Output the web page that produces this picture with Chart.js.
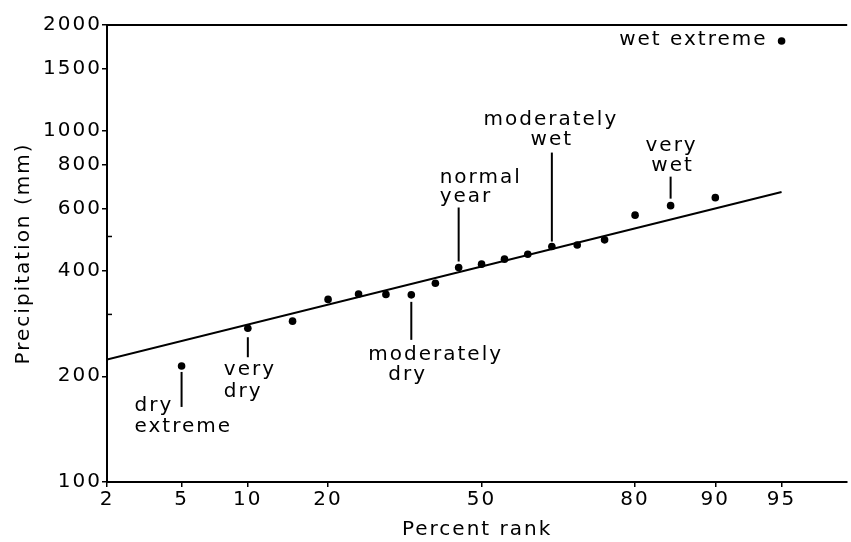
<!DOCTYPE html>
<html><head><meta charset="utf-8">
<script src="https://cdn.jsdelivr.net/npm/chart.js@4/dist/chart.umd.min.js"></script>
<style>html,body{margin:0;padding:0;background:#fff;}canvas{display:block;}</style>
</head><body>
<canvas id="c" width="851" height="542"></canvas>
<script>
// ---- data ----
const percentRank = [5,10,15,20,25,30,35,40,45,50,55,60,65,70,75,80,85,90,95];
const precipitation = [214,274,287,331,343,342,341,368,408,417,431,445,468,473,489,575,612,645,1800];
const fitRank = [2, 95];
const fitPrecip = [223, 669];
const xTickPercents = [2,5,10,20,50,80,90,95];
const xTickLabels = ['2','5','10','20','50','80','90','95'];
const yTickValues = [100,200,300,400,500,600,800,1000,1500,2000];
const yTickLabels = ['100','200','','400','','600','800','1000','1500','2000'];
const xRangePercent = [2, 97.75];
const yRange = [100, 2000];
const labelRanks = [5,10,35,45,65,85,95];
const labelTexts = [['dry','extreme'],['very','dry'],['moderately','dry'],['normal','year'],['moderately','wet'],['very','wet'],['wet extreme']];

// inverse normal CDF (probability-paper axis)
function probit(p){
  const a=[-3.969683028665376e+01,2.209460984245205e+02,-2.759285104469687e+02,1.383577518672690e+02,-3.066479806614716e+01,2.506628277459239e+00];
  const b=[-5.447609879822406e+01,1.615858368580409e+02,-1.556989798598866e+02,6.680131188771972e+01,-1.328068155288572e+01];
  const c=[-7.784894002430293e-03,-3.223964580411365e-01,-2.400758277161838e+00,-2.549671010615606e+00,4.374664141464968e+00,2.938163982698783e+00];
  const d=[7.784695709041462e-03,3.224671290700398e-01,2.445134137142996e+00,3.754408661907416e+00];
  const pl=0.02425, ph=1-pl; let q,r;
  if(p<pl){q=Math.sqrt(-2*Math.log(p));return (((((c[0]*q+c[1])*q+c[2])*q+c[3])*q+c[4])*q+c[5])/((((d[0]*q+d[1])*q+d[2])*q+d[3])*q+1);}
  if(p>ph){q=Math.sqrt(-2*Math.log(1-p));return -(((((c[0]*q+c[1])*q+c[2])*q+c[3])*q+c[4])*q+c[5])/((((d[0]*q+d[1])*q+d[2])*q+d[3])*q+1);}
  q=p-0.5;r=q*q;return (((((a[0]*r+a[1])*r+a[2])*r+a[3])*r+a[4])*r+a[5])*q/(((((b[0]*r+b[1])*r+b[2])*r+b[3])*r+b[4])*r+1);
}
const z = p => probit(p/100);

// ---- styling / annotation layout (pixel offsets relative to the marked point) ----
const INK = '#000';
const FONT = {family:'"DejaVu Sans", sans-serif', size:20, weight:'normal'};
const SPACING = '2px';
const annoLayout = [
  {line:[6,41],   align:'left',   dx:[-47,-47], dy:[40,61]},
  {line:[9,29],   align:'left',   dx:[-24,-24], dy:[42,64]},
  {line:[7,45],   align:'left',   dx:[-43,-23], dy:[60,80]},
  {line:[-6,-60], align:'left',   dx:[-19,-19], dy:[-90,-71]},
  {line:[-5,-94], align:'center', dx:[-1,0],    dy:[-127,-107]},
  {line:[-7,-29], align:'center', dx:[1,2],     dy:[-60,-40]},
  {line:null,     align:'right',  dx:[-14],     dy:[-1]}
];

const spacingPlugin = {
  id:'spacing',
  beforeUpdate(chart){ chart.ctx.letterSpacing = SPACING; },
  beforeLayout(chart){ chart.ctx.letterSpacing = SPACING; },
  beforeDraw(chart){ chart.ctx.letterSpacing = SPACING; }
};

const framePlugin = {
  id:'frame',
  afterDatasetsDraw(chart){
    const ctx = chart.ctx, a = chart.chartArea;
    const xs = chart.scales.x, ys = chart.scales.y;
    ctx.save();
    ctx.letterSpacing = SPACING;
    ctx.strokeStyle = INK; ctx.lineWidth = 2;
    ctx.beginPath(); ctx.moveTo(a.left-1, a.top); ctx.lineTo(a.right, a.top); ctx.stroke();
    // minor ticks (300, 500) drawn inward like the original
    ctx.lineWidth = 1.5;
    [300,500].forEach(v => { const y = ys.getPixelForValue(v); ctx.beginPath(); ctx.moveTo(a.left, y); ctx.lineTo(a.left+5, y); ctx.stroke(); });
    ctx.fillStyle = INK;
    ctx.font = `${FONT.weight} ${FONT.size}px ${FONT.family}`;
    ctx.textBaseline = 'middle';
    labelRanks.forEach((rank, k) => {
      const idx = percentRank.indexOf(rank);
      const px = xs.getPixelForValue(z(rank));
      const py = ys.getPixelForValue(precipitation[idx]);
      const L = annoLayout[k];
      if (L.line){
        ctx.lineWidth = 2;
        ctx.beginPath(); ctx.moveTo(px, py+L.line[0]); ctx.lineTo(px, py+L.line[1]); ctx.stroke();
      }
      ctx.textAlign = L.align;
      labelTexts[k].forEach((t, j) => {
        ctx.fillText(t, px + L.dx[j], py + L.dy[j]);
      });
    });
    ctx.restore();
  }
};

new Chart(document.getElementById('c'), {
  type:'scatter',
  data:{
    datasets:[
      {
        label:'Annual precipitation',
        data: percentRank.map((p,i)=>({x:z(p), y:precipitation[i]})),
        pointRadius:3.8, pointHoverRadius:3.8,
        backgroundColor:INK, borderWidth:0, showLine:false
      },
      {
        label:'Fit',
        data: fitRank.map((p,i)=>({x:z(p), y:fitPrecip[i]})),
        showLine:true, pointRadius:0, borderColor:INK, borderWidth:2, fill:false
      }
    ]
  },
  options:{
    responsive:false, animation:false, devicePixelRatio:1,
    layout:{padding:{top:25, right:0, bottom:0, left:0}},
    plugins:{legend:{display:false}, tooltip:{enabled:false}},
    scales:{
      x:{
        type:'linear', position:'bottom',
        min:z(xRangePercent[0]), max:z(xRangePercent[1]),
        afterBuildTicks: s => { s.ticks = xTickPercents.map(p => ({value:z(p)})); },
        afterFit: s => { s.height = 60; },
        ticks:{autoSkip:false, maxRotation:0, minRotation:0, padding:1, color:INK, font:FONT,
               callback:(v,i)=>xTickLabels[i]},
        grid:{display:true, drawOnChartArea:false, drawTicks:true, tickLength:5, color:INK, lineWidth:1.5},
        border:{display:true, color:INK, width:2},
        title:{display:true, text:'Percent rank', color:INK, font:FONT, padding:{top:0,bottom:0}}
      },
      y:{
        type:'logarithmic', position:'left',
        min:yRange[0], max:yRange[1],
        afterBuildTicks: s => { s.ticks = yTickValues.map(v => ({value:v})); },
        afterFit: s => { s.width = 107; },
        ticks:{autoSkip:false, padding:0, color:INK, font:FONT,
               callback:(v,i)=>yTickLabels[i]},
        grid:{display:true, drawOnChartArea:false, drawTicks:true, tickLength:5, color:INK, lineWidth:1.5,
              tickColor: ctx => (yTickLabels[ctx.index] === '' ? 'rgba(0,0,0,0)' : INK)},
        border:{display:true, color:INK, width:2},
        title:{display:true, text:'Precipitation (mm)', color:INK, font:FONT, padding:{top:12,bottom:0}}
      }
    }
  },
  plugins:[spacingPlugin, framePlugin]
});
</script>
</body></html>
